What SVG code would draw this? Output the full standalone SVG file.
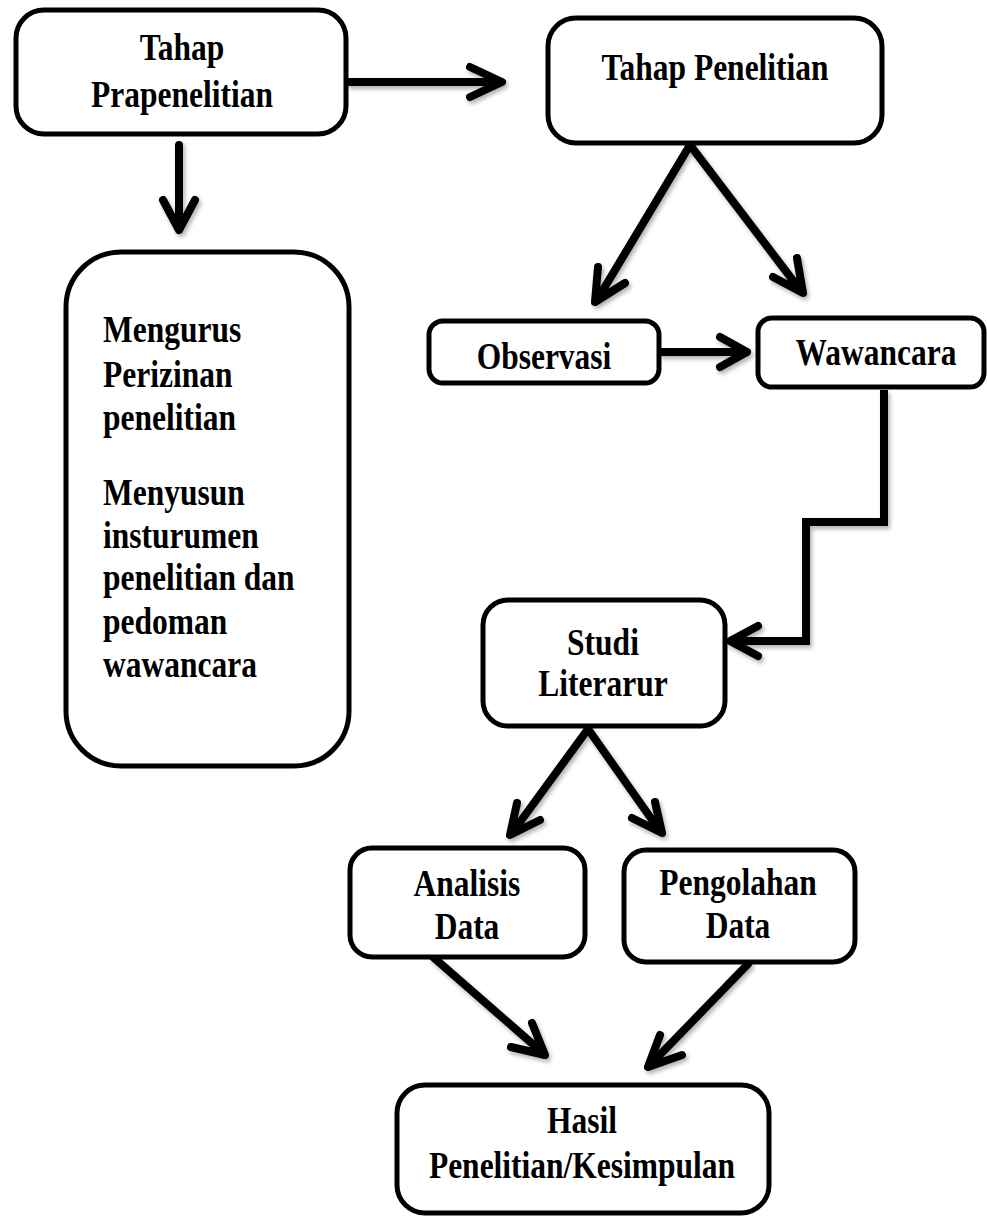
<svg xmlns="http://www.w3.org/2000/svg" width="987" height="1218" viewBox="0 0 987 1218">
<defs>
<filter id="sh" x="-20%" y="-20%" width="140%" height="140%">
<feDropShadow dx="2" dy="3" stdDeviation="2" flood-color="#000" flood-opacity="0.3"/>
</filter>
<style>
.box{fill:#fff;stroke:#000;stroke-width:5}
.t{font-family:"Liberation Serif","Times New Roman",serif;font-weight:bold;font-size:31.5px;fill:#000}
.c{text-anchor:middle}
.conn{fill:none;stroke:#000;stroke-width:8;stroke-linecap:round;stroke-linejoin:round}
.elbow{fill:none;stroke:#000;stroke-width:8;stroke-linejoin:miter;stroke-linecap:butt}
</style>
</defs>
<rect width="987" height="1218" fill="#fff"/>

<g id="connectors" filter="url(#sh)">
<path class="conn" d="M350 82 H500 M470 67 L502 82 L470 97"/>
<path class="conn" d="M179 145 V228 M163 200 L179 230 L195 200"/>
<path class="conn" d="M690 145 L597 300 M598 267 L595 302 L625 283"/>
<path class="conn" d="M690 145 L801 291 M797 258 L803 293 L773 277"/>
<path class="conn" d="M662 352 H745 M720 337 L747 352 L720 367"/>
<path class="elbow" d="M884 390 V522 H806 V641 H734"/>
<path class="conn" d="M758 626 L730 641 L758 656"/>
<path class="conn" d="M588 729 L512 833 M517 803 L510 835 L540 820"/>
<path class="conn" d="M588 729 L660 831 M655 802 L662 833 L632 818"/>
<path class="conn" d="M433 957 L543 1053 M511 1047 L545 1055 L532 1023"/>
<path class="conn" d="M748 964 L650 1065 M660 1035 L648 1067 L682 1055"/>
</g>

<g id="node-prapenelitian">
<rect class="box" x="16" y="10" width="330" height="124" rx="28"/>
<text class="t c" transform="translate(182,60) scale(1,1.22)"><tspan x="0" y="0">Tahap</tspan><tspan x="0" y="38.5">Prapenelitian</tspan></text>
</g>

<g id="node-penelitian">
<rect class="box" x="548" y="18" width="334" height="125" rx="28"/>
<text class="t c" transform="translate(715,80) scale(1,1.22)">Tahap Penelitian</text>
</g>

<g id="node-persiapan">
<rect class="box" x="66" y="252" width="283" height="514" rx="55"/>
<text class="t" transform="translate(103,342) scale(1,1.22)"><tspan x="0" y="0">Mengurus</tspan><tspan x="0" y="36.9">Perizinan</tspan><tspan x="0" y="72.1">penelitian</tspan><tspan x="0" y="133.6">Menyusun</tspan><tspan x="0" y="168.9">insturumen</tspan><tspan x="0" y="203.3">penelitian dan</tspan><tspan x="0" y="239.3">pedoman</tspan><tspan x="0" y="274.6">wawancara</tspan></text>
</g>

<g id="node-observasi">
<rect class="box" x="429" y="321" width="230" height="62" rx="14"/>
<text class="t c" transform="translate(544,369) scale(1,1.22)">Observasi</text>
</g>

<g id="node-wawancara">
<rect class="box" x="758" y="318" width="226" height="69" rx="14"/>
<text class="t c" transform="translate(876,365) scale(1,1.22)">Wawancara</text>
</g>

<g id="node-studi">
<rect class="box" x="483" y="600" width="242" height="126" rx="25"/>
<text class="t c" transform="translate(603,655) scale(1,1.22)"><tspan x="0" y="0">Studi</tspan><tspan x="0" y="33.6">Literarur</tspan></text>
</g>

<g id="node-analisis">
<rect class="box" x="350" y="848" width="235" height="109" rx="22"/>
<text class="t c" transform="translate(467,896) scale(1,1.22)"><tspan x="0" y="0">Analisis</tspan><tspan x="0" y="35.2">Data</tspan></text>
</g>

<g id="node-pengolahan">
<rect class="box" x="624" y="850" width="231" height="112" rx="22"/>
<text class="t c" transform="translate(738,895) scale(1,1.22)"><tspan x="0" y="0">Pengolahan</tspan><tspan x="0" y="35.2">Data</tspan></text>
</g>

<g id="node-hasil">
<rect class="box" x="397" y="1085" width="372" height="128" rx="28"/>
<text class="t c" transform="translate(582,1133) scale(1,1.22)"><tspan x="0" y="0">Hasil</tspan><tspan x="0" y="36.9">Penelitian/Kesimpulan</tspan></text>
</g>
</svg>
